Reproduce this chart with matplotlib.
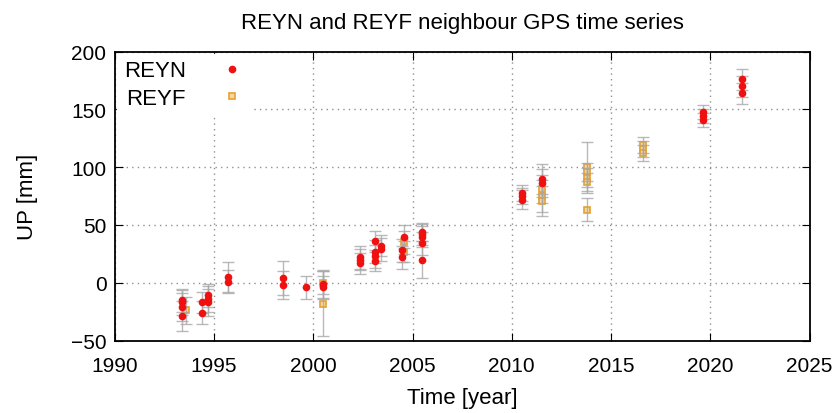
import matplotlib.pyplot as plt
import numpy as np

plt.rcParams['font.family'] = ['Liberation Sans', 'DejaVu Sans']

# REYN campaign epochs (decimal year), vertical position and 1-sigma error [mm]
reyn_t = [1993.40, 1993.40, 1993.40, 1993.40, 1994.40, 1994.40,
          1994.72, 1994.72, 1994.72, 1995.72, 1995.72, 1998.48, 1998.48,
          1999.62, 2000.47, 2000.47, 2002.36, 2002.36, 2002.36,
          2003.10, 2003.10, 2003.10, 2003.10, 2003.42, 2003.42,
          2004.45, 2004.45, 2004.57, 2005.46, 2005.46, 2005.46, 2005.46,
          2005.46, 2010.53, 2010.53, 2010.53, 2011.51, 2011.51,
          2019.62, 2019.62, 2019.62, 2021.62, 2021.62, 2021.62]
reyn_up = [-15, -17, -21, -29, -17, -26,
           -11, -14, -17, 5, 1, 4, -2,
           -4, -1, -4, 22, 20, 17,
           36, 27, 23, 19, 32, 29,
           28, 22, 40, 44, 42, 40, 34,
           20, 78, 75, 72, 90, 86,
           148, 144, 141, 176, 170, 164]
reyn_err = [10, 11, 12, 13, 9, 10,
            10, 11, 12, 13, 10, 15, 12,
            10, 12, 10, 10, 9, 9,
            9, 10, 10, 9, 9, 10,
            10, 10, 10, 8, 9, 9, 10,
            16, 7, 7, 8, 13, 12,
            6, 6, 6, 9, 9, 9]

# REYF epochs
reyf_t = [1993.60, 2000.47, 2000.47, 2004.57, 2004.57,
          2011.51, 2011.51, 2011.51, 2013.78, 2013.78, 2013.78, 2013.78,
          2013.78, 2016.59, 2016.59, 2016.59]
reyf_up = [-24, 0, -18, 35, 27,
           81, 75, 71, 100, 96, 91, 87,
           63, 119, 116, 112]
reyf_err = [12, 10, 28, 10, 9,
            12, 14, 13, 22, 8, 8, 8,
            10, 7, 7, 7]

fig = plt.figure(figsize=(8.38, 4.14), dpi=100)
ax = fig.add_axes([0.137, 0.175, 0.829, 0.698])

# squares first, then the error bars over them, red dots on top
ax.plot(reyf_t, reyf_up, 's', markerfacecolor='#f4d8a0',
        markeredgecolor='#e8a030', markersize=5, markeredgewidth=1.2,
        label='REYF', zorder=2)

bar_style = dict(fmt='none', ecolor='#a8a8a8', elinewidth=1.0, capsize=4,
                 capthick=1.0, alpha=0.8, zorder=3)
ax.errorbar(reyn_t, reyn_up, yerr=reyn_err, **bar_style)
ax.errorbar(reyf_t, reyf_up, yerr=reyf_err, **bar_style)

ax.plot(reyn_t, reyn_up, 'o', color='#f01010', markersize=5.5,
        markeredgewidth=0, label='REYN', zorder=4)

ax.set_xlim(1990, 2025)
ax.set_ylim(-50, 200)
ax.set_xticks(np.arange(1990, 2026, 5))
ax.set_yticks(np.arange(-50, 201, 50))
ax.tick_params(direction='in', top=True, right=True, length=6, labelsize=15)
ax.tick_params(axis='x', pad=11)
ax.tick_params(axis='y', pad=6)
ax.set_yticklabels(['\u221250', '0', '50', '100', '150', '200'])
ax.grid(True, linestyle=(0, (1, 3)), color='#909090', linewidth=1.0)
for s in ax.spines.values():
    s.set_linewidth(1.3)

ax.set_xlabel('Time [year]', fontsize=16, labelpad=9)
ax.set_ylabel('UP [mm]', fontsize=16, labelpad=24)
ax.set_title('REYN and REYF neighbour GPS time series', fontsize=16, pad=17)

handles, labels = ax.get_legend_handles_labels()
leg = ax.legend(handles[::-1], labels[::-1], loc='upper left',
                markerfirst=False, frameon=True, fontsize=16,
                handlelength=1.0, handletextpad=1.6, labelspacing=0.3,
                borderaxespad=0.1, borderpad=0.3)
leg.get_frame().set_edgecolor('white')
leg.get_frame().set_alpha(1.0)

fig.savefig('out.png', dpi=100)
